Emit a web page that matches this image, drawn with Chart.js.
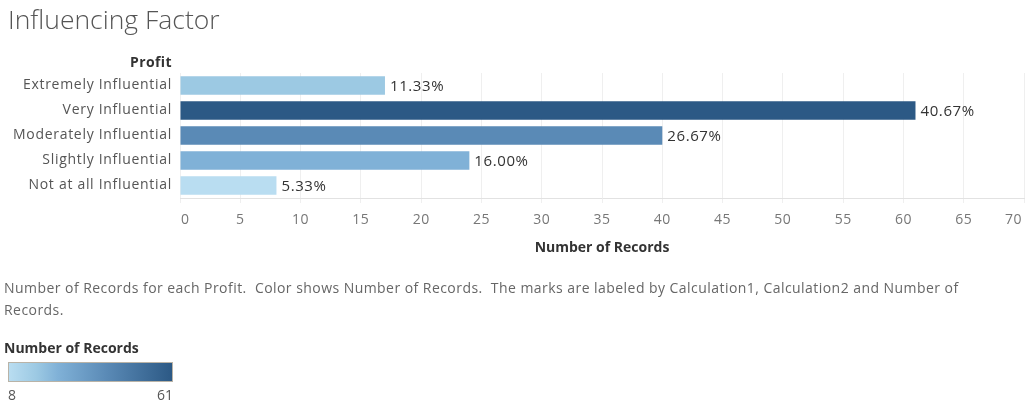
<!DOCTYPE html>
<html>
<head>
<meta charset="utf-8">
<title>Influencing Factor</title>
<script src="https://cdn.jsdelivr.net/npm/chart.js@4/dist/chart.umd.min.js"></script>
<style>
  html, body { margin: 0; padding: 0; background: #fff; width: 1027px; height: 405px; overflow: hidden; }
  body { position: relative; font-family: "Open Sans", sans-serif; }
  #chart { position: absolute; left: 0; top: 0; }
  .t { position: absolute; white-space: nowrap; }
  #title { left: 8px; top: 0px; font-size: 26.5px; line-height: 38px; color: #555; font-weight: 300; }
  #profit { right: 855px; top: 52px; font-size: 14px; line-height: 20px; font-weight: 700; color: #333; letter-spacing: 0.4px; }
  #caption { left: 4px; top: 277px; font-size: 14px; line-height: 22px; color: #666; letter-spacing: 0.45px; }
  #legTitle { left: 4px; top: 338px; font-size: 14px; line-height: 20px; font-weight: 700; color: #333; }
  #ramp { left: 8px; top: 362px; width: 163px; height: 18px; border: 1px solid #b9b3a7; }
  #lmin { left: 8px; top: 385px; font-size: 14px; line-height: 20px; color: #555; }
  #lmax { right: 854px; top: 385px; font-size: 14px; line-height: 20px; color: #555; }
</style>
</head>
<body>
<canvas id="chart" width="1027" height="405"></canvas>
<div class="t" id="title">Influencing Factor</div>
<div class="t" id="profit">Profit</div>
<div class="t" id="caption">Number of Records for each Profit.&nbsp; Color shows Number of Records.&nbsp; The marks are labeled by Calculation1, Calculation2 and Number of<br>Records.</div>
<div class="t" id="legTitle">Number of Records</div>
<div class="t" id="ramp"></div>
<div class="t" id="lmin"></div>
<div class="t" id="lmax"></div>
<script>
// Survey answers for "Profit" and how many records gave each answer
const categories = [
  "Extremely Influential",
  "Very Influential",
  "Moderately Influential",
  "Slightly Influential",
  "Not at all Influential"
];
const records = [17, 61, 40, 24, 8];
const axisMax = 70;
const axisStep = 5;
const xAxisTitle = 'Number of Records';

const total = records.reduce((a, b) => a + b, 0);
const minRec = Math.min(...records);
const maxRec = Math.max(...records);

// Sequential blue colour ramp (light = few records, dark = many)
const rampStops = [
  [0.00, [185, 221, 241]],
  [0.17, [156, 201, 227]],
  [0.30, [128, 177, 215]],
  [0.60, [90, 138, 182]],
  [1.00, [44, 89, 133]]
];
function rampColor(v) {
  const t = (v - minRec) / (maxRec - minRec);
  for (let i = 1; i < rampStops.length; i++) {
    const [t1, c1] = rampStops[i];
    const [t0, c0] = rampStops[i - 1];
    if (t <= t1) {
      const f = (t - t0) / (t1 - t0);
      const c = c0.map((x, k) => Math.round(x + (c1[k] - x) * f));
      return `rgb(${c[0]},${c[1]},${c[2]})`;
    }
  }
  const c = rampStops[rampStops.length - 1][1];
  return `rgb(${c[0]},${c[1]},${c[2]})`;
}
const pct = v => (v / total * 100).toFixed(2) + '%';

// colour legend
document.getElementById('ramp').style.background =
  'linear-gradient(to right,' +
  rampStops.map(([t, c]) => `rgb(${c.join(',')}) ${t * 100}%`).join(',') + ')';
document.getElementById('lmin').textContent = minRec;
document.getElementById('lmax').textContent = maxRec;

const FONT = '"Open Sans", sans-serif';

// slightly open letter spacing for the category labels
const spacingPlugin = {
  id: 'spacingPlugin',
  beforeDraw(chart) { chart.ctx.letterSpacing = '0.7px'; }
};

// x tick labels (kept inside the canvas at the ends), axis title and percentage labels
const labelPlugin = {
  id: 'labelPlugin',
  afterDraw(chart) {
    const ctx = chart.ctx;
    const xs = chart.scales.x;
    const area = chart.chartArea;
    ctx.save();
    ctx.letterSpacing = '0.5px';
    ctx.font = `14px ${FONT}`;
    ctx.textBaseline = 'middle';
    ctx.textAlign = 'center';
    ctx.fillStyle = '#777';
    xs.ticks.forEach(t => {
      const label = String(t.value);
      const w = ctx.measureText(label).width;
      let x = xs.getPixelForValue(t.value);
      x = Math.max(area.left + w / 2 + 1, Math.min(x, chart.width - 5 - w / 2));
      ctx.fillText(label, x, area.bottom + 22);
    });

    ctx.letterSpacing = '0px';
    ctx.font = `bold 14px ${FONT}`;
    ctx.fillStyle = '#333';
    ctx.fillText(xAxisTitle, (area.left + area.right) / 2, area.bottom + 50);

    ctx.letterSpacing = '0.6px';
    ctx.font = `15px ${FONT}`;
    ctx.fillStyle = '#333';
    ctx.textAlign = 'left';
    chart.getDatasetMeta(0).data.forEach((bar, i) => {
      ctx.fillText(pct(records[i]), bar.x + 5, bar.y + 1);
    });
    ctx.restore();
  }
};

new Chart(document.getElementById('chart'), {
  type: 'bar',
  data: {
    labels: categories,
    datasets: [{
      data: records,
      backgroundColor: records.map(rampColor),
      borderWidth: 0,
      barPercentage: 0.74,
      categoryPercentage: 1.0
    }]
  },
  options: {
    indexAxis: 'y',
    responsive: false,
    animation: false,
    devicePixelRatio: 1,
    layout: { padding: { top: 73, right: 3, bottom: 147, left: 0 } },
    plugins: { legend: { display: false }, tooltip: { enabled: false } },
    scales: {
      x: {
        type: 'linear',
        min: 0,
        max: axisMax,
        ticks: { display: false, stepSize: axisStep },
        grid: { color: '#efefef', lineWidth: 1, drawTicks: true, tickLength: 5 },
        border: { display: true, color: '#e2e2e2' },
        title: { display: false },
        afterFit(s) { s.height = 60; s.paddingLeft = 0; s.paddingRight = 0; }
      },
      y: {
        ticks: { color: '#555', font: { family: FONT, size: 14 }, padding: 8 },
        grid: { display: false, drawTicks: false },
        border: { display: false },
        afterFit(s) { s.width = 180; }
      }
    }
  },
  plugins: [spacingPlugin, labelPlugin]
});
</script>
</body>
</html>
